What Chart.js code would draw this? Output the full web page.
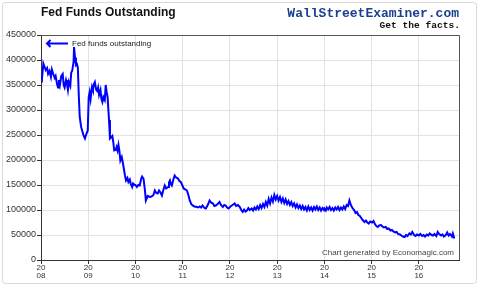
<!DOCTYPE html>
<html>
<head>
<meta charset="utf-8">
<title>Fed Funds Outstanding</title>
<script src="https://cdn.jsdelivr.net/npm/chart.js@4/dist/chart.umd.min.js"></script>
<style>
  html, body { margin: 0; padding: 0; background: #fff; }
  canvas { display: block; }
</style>
</head>
<body>
<canvas id="fedChart" width="480" height="289"></canvas>
<script>
// weekly-ish readings, decimal years
const dates = [
  2008.00, 2008.02, 2008.05, 2008.07, 2008.10, 2008.13, 2008.15, 2008.18, 2008.21, 2008.23, 2008.26, 2008.29, 2008.31, 2008.34, 2008.36, 2008.38, 2008.40, 2008.43, 2008.46, 2008.48, 2008.50, 2008.53, 2008.55, 2008.57, 2008.59, 2008.62, 2008.64, 2008.66, 2008.69, 2008.70, 2008.72, 2008.74, 2008.76, 2008.78, 2008.80, 2008.82, 2008.85, 2008.88, 2008.90, 2008.93, 2008.96, 2008.99,
  2009.01, 2009.03, 2009.05, 2009.08, 2009.10, 2009.12, 2009.14, 2009.17, 2009.19, 2009.21, 2009.23, 2009.26, 2009.28, 2009.30, 2009.32, 2009.35, 2009.37, 2009.39, 2009.41, 2009.44, 2009.46, 2009.49, 2009.51, 2009.53, 2009.55, 2009.58, 2009.60, 2009.62, 2009.64, 2009.66, 2009.68, 2009.71, 2009.73, 2009.75, 2009.78, 2009.80, 2009.83, 2009.85, 2009.88, 2009.90, 2009.93, 2009.95, 2009.98,
  2010.00, 2010.03, 2010.06, 2010.09, 2010.12, 2010.14, 2010.17, 2010.20, 2010.22, 2010.26, 2010.30, 2010.34, 2010.38, 2010.41, 2010.44, 2010.47, 2010.50, 2010.53, 2010.56, 2010.59, 2010.62, 2010.65, 2010.69, 2010.71, 2010.73, 2010.75, 2010.77, 2010.80, 2010.83, 2010.86, 2010.90, 2010.93, 2010.96, 2010.99,
  2011.02, 2011.06, 2011.09, 2011.12, 2011.15, 2011.18, 2011.21, 2011.25, 2011.30, 2011.33, 2011.36, 2011.39, 2011.42, 2011.46, 2011.49, 2011.53, 2011.57, 2011.60, 2011.64, 2011.67, 2011.70, 2011.74, 2011.78, 2011.81, 2011.85, 2011.88, 2011.91, 2011.94, 2011.97,
  2012.01, 2012.04, 2012.07, 2012.10, 2012.13, 2012.17, 2012.21, 2012.24, 2012.27, 2012.30, 2012.33, 2012.36, 2012.39, 2012.42, 2012.46, 2012.49, 2012.52, 2012.55, 2012.58, 2012.61, 2012.64, 2012.67, 2012.70, 2012.73, 2012.76, 2012.79, 2012.82, 2012.85, 2012.88, 2012.91, 2012.94, 2012.97,
  2013.00, 2013.03, 2013.06, 2013.09, 2013.12, 2013.15, 2013.18, 2013.21, 2013.24, 2013.27, 2013.30, 2013.33, 2013.36, 2013.39, 2013.42, 2013.45, 2013.48, 2013.51, 2013.54, 2013.57, 2013.60, 2013.63, 2013.66, 2013.69, 2013.72, 2013.75, 2013.78, 2013.81, 2013.84, 2013.87, 2013.90, 2013.93, 2013.96, 2013.99,
  2014.00, 2014.03, 2014.05, 2014.08, 2014.11, 2014.14, 2014.17, 2014.20, 2014.23, 2014.26, 2014.29, 2014.32, 2014.35, 2014.38, 2014.41, 2014.44, 2014.47, 2014.50, 2014.53, 2014.56, 2014.60, 2014.63, 2014.66, 2014.69, 2014.72, 2014.75, 2014.78, 2014.81, 2014.85, 2014.88, 2014.91, 2014.94, 2014.97,
  2015.01, 2015.04, 2015.07, 2015.10, 2015.13, 2015.16, 2015.20, 2015.23, 2015.26, 2015.30, 2015.33, 2015.36, 2015.40, 2015.43, 2015.46, 2015.50, 2015.53, 2015.56, 2015.60, 2015.63, 2015.66, 2015.70, 2015.73, 2015.76, 2015.80, 2015.83, 2015.86, 2015.90, 2015.93, 2015.96,
  2016.00, 2016.03, 2016.07, 2016.10, 2016.13, 2016.17, 2016.20, 2016.23, 2016.27, 2016.30, 2016.33, 2016.37, 2016.40, 2016.43, 2016.47, 2016.50, 2016.53, 2016.57, 2016.60, 2016.63, 2016.66, 2016.70, 2016.72, 2016.75
];

// fed funds outstanding, thousands (same order as dates)
const fedFundsK = [
  366, 362, 393, 388, 380, 384, 372, 378, 366, 381, 372, 364, 368, 352, 345, 360, 350, 368, 372, 350, 345, 360, 352, 340, 356, 348, 375, 378, 396, 426, 405, 390, 392, 385, 330, 286, 266, 256, 249, 243, 252, 259,
  326, 336, 322, 346, 340, 352, 356, 340, 338, 345, 330, 340, 322, 316, 326, 320, 350, 336, 326, 280, 243, 246, 248, 236, 219, 220, 226, 219, 230, 218, 199, 206, 196, 185, 168, 159, 164, 156, 161, 152, 146, 153, 150,
  150, 146, 150, 149, 162, 167, 163, 140, 119, 128, 126, 127, 130, 139, 134, 133, 139, 135, 129, 140, 149, 143, 146, 155, 159, 152, 149, 160, 169, 165, 163, 158, 156, 150,
  143, 141, 139, 130, 119, 112, 109, 107, 106, 105, 107, 105, 109, 104, 103, 110, 119, 115, 113, 108, 109, 112, 116, 110, 106, 110, 109, 105, 103,
  107, 109, 111, 113, 108, 110, 106, 100, 96, 101, 97, 99, 104, 100, 103, 99, 105, 101, 107, 102, 110, 104, 112, 106, 116, 109, 122, 113, 125, 117, 130, 121,
  128, 119, 126, 116, 123, 114, 121, 112, 118, 110, 116, 108, 113, 105, 111, 104, 109, 102, 108, 101, 106, 99, 107, 100, 105, 99, 106, 101, 107, 100, 105, 99, 104, 100,
  103, 99, 105, 101, 106, 100, 104, 99, 105, 101, 106, 100, 105, 101, 107, 102, 110, 108, 119, 110, 103, 100, 94, 96, 90, 88, 84, 80, 76, 79, 75, 73, 77,
  75, 78, 72, 68, 66, 69, 70, 67, 65, 66, 62, 63, 59, 60, 57, 55, 56, 52, 51, 49, 47, 46, 50, 48, 53, 51, 56, 50, 48, 51,
  49, 52, 48, 50, 47, 51, 49, 53, 50, 49, 52, 48, 56, 52, 49, 51, 47, 50, 55, 49, 52, 47, 53, 43
];

const yearTicks = [2008, 2009, 2010, 2011, 2012, 2013, 2014, 2015, 2016];

const titleText = 'Fed Funds Outstanding';
const siteText = 'WallStreetExaminer.com';
const sloganText = 'Get the facts.';
const seriesLabel = 'Fed funds outstanding';
const creditText = 'Chart generated by Economagic.com';

const sans = '"Liberation Sans", Arial, sans-serif';
const mono = '"Liberation Mono", "Courier New", monospace';

// page furniture: frame, header, legend arrow, credit line
const decorations = {
  id: 'decorations',
  beforeDraw(chart) {
    const ctx = chart.ctx;
    ctx.save();
    ctx.fillStyle = '#fff';
    ctx.fillRect(0, 0, chart.width, chart.height);
    ctx.strokeStyle = '#d9d9d9';
    ctx.lineWidth = 1;
    ctx.beginPath();
    ctx.roundRect(2.5, 2.5, 474, 281, 3);
    ctx.stroke();

    ctx.textBaseline = 'middle';
    ctx.fillStyle = '#111';
    ctx.font = 'bold 12px ' + sans;
    ctx.textAlign = 'left';
    ctx.fillText(titleText, 41, 13);

    ctx.textAlign = 'right';
    ctx.fillStyle = '#1d3f8f';
    ctx.font = 'bold 13px ' + mono;
    ctx.fillText(siteText, 459, 14);
    ctx.fillStyle = '#111';
    ctx.font = 'bold 9.6px ' + mono;
    ctx.fillText(sloganText, 460, 26);
    ctx.restore();
  },
  afterDraw(chart) {
    const ctx = chart.ctx;
    const a = chart.chartArea;
    ctx.save();
    // top and right frame of the plot
    ctx.strokeStyle = '#555';
    ctx.lineWidth = 1;
    ctx.beginPath();
    ctx.moveTo(a.left, a.top + 0.5);
    ctx.lineTo(a.right + 0.5, a.top + 0.5);
    ctx.lineTo(a.right + 0.5, a.bottom);
    ctx.stroke();

    // legend arrow
    ctx.strokeStyle = '#0000ff';
    ctx.lineWidth = 2;
    ctx.beginPath();
    ctx.moveTo(47, 43.5);
    ctx.lineTo(68, 43.5);
    ctx.moveTo(50.5, 40);
    ctx.lineTo(47, 43.5);
    ctx.lineTo(50.5, 47);
    ctx.stroke();

    ctx.fillStyle = '#222';
    ctx.font = '8px ' + sans;
    ctx.textBaseline = 'middle';
    ctx.textAlign = 'left';
    ctx.fillText(seriesLabel, 72, 43.5);

    ctx.fillStyle = '#444';
    ctx.textAlign = 'right';
    ctx.fillText(creditText, 454, 253);
    ctx.restore();
  }
};

const ctx = document.getElementById('fedChart').getContext('2d');

const chart = new Chart(ctx, {
  type: 'line',
  data: {
    datasets: [{
      label: seriesLabel,
      data: dates.map((d, i) => ({ x: d, y: fedFundsK[i] * 1000 })),
      borderColor: '#0000ff',
      borderWidth: 2,
      pointRadius: 0,
      tension: 0,
      fill: false
    }]
  },
  options: {
    responsive: false,
    animation: false,
    layout: { padding: { left: 0, top: 35, right: 21, bottom: 0 } },
    plugins: {
      legend: { display: false },
      tooltip: { enabled: false }
    },
    scales: {
      x: {
        type: 'linear',
        min: 2008,
        max: 2016.85,
        afterBuildTicks: (scale) => { scale.ticks = yearTicks.map(v => ({ value: v })); },
        afterFit: (scale) => { scale.height = 29; },
        grid: { color: '#e2e2e2', tickColor: '#333', tickLength: 4 },
        border: { color: '#333' },
        ticks: {
          autoSkip: false,
          maxRotation: 0,
          padding: 0,
          color: '#333',
          font: { family: sans, size: 8, lineHeight: 0.95 },
          callback: (v) => ['20', String(v).slice(2)]
        }
      },
      y: {
        min: 0,
        max: 450000,
        afterFit: (scale) => { scale.width = 41; },
        grid: { color: '#e2e2e2', tickColor: '#333', tickLength: 4 },
        border: { color: '#333' },
        ticks: {
          stepSize: 50000,
          padding: 1,
          color: '#333',
          font: { family: sans, size: 9 },
          callback: (v) => String(v)
        }
      }
    }
  },
  plugins: [decorations]
});
</script>
</body>
</html>
